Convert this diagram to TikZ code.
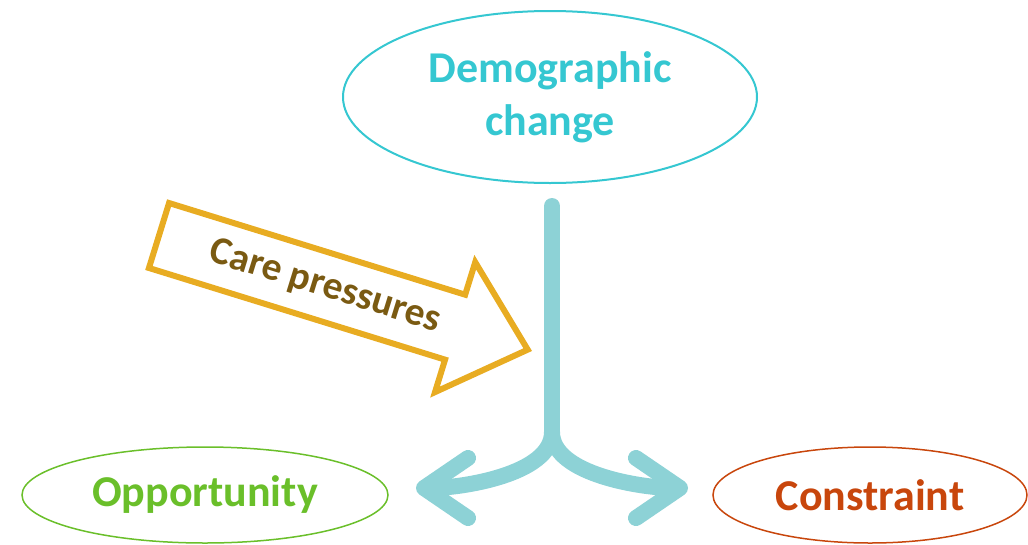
\documentclass[tikz,border=0pt]{standalone}
\usepackage{fontspec}
\setmainfont{Carlito}
\usetikzlibrary{shapes.geometric,arrows.meta}

\definecolor{demo}{HTML}{35C7D1}
\definecolor{opp}{HTML}{6ABF2A}
\definecolor{con}{HTML}{C8460C}
\definecolor{push}{HTML}{E8AC22}
\definecolor{pushtext}{HTML}{7A5A12}
\definecolor{forkcol}{HTML}{8DD2D6}

\begin{document}
\begin{tikzpicture}[x=1pt, y=-1pt,
        bubble/.style={ellipse, draw, line width=1.5pt, inner sep=0pt,
            font=\bfseries\fontsize{44}{53}\selectfont},
        stem/.style={line width=16pt, draw=forkcol, line cap=round},
        fork/.style={stem, -{Straight Barb[round, length=44pt, width=60pt]}},
        block/.style={draw=push, line width=6pt, miter limit=20}]
    \useasboundingbox (0,0) rectangle (1028,544);

    \node[bubble, draw=demo, text=demo, line width=2pt, align=center,
          minimum width=414, minimum height=172] (d) at (550,97) {Demographic\\change};
    \node[bubble, draw=opp, text=opp,
          minimum width=366, minimum height=96] (o) at (205,495) {Opportunity};
    \node[bubble, draw=con, text=con,
          minimum width=314, minimum height=96] (k) at (870,495) {Constraint};

    % the fork
    \coordinate (t) at (552,206);
    \coordinate (j) at (552,432);
    \coordinate (l) at (416,488);
    \coordinate (r) at (688,488);
    \draw[stem] (t) -- (j);
    \draw[fork] (j) to[out=-90, in=0, looseness=0.75] (l);
    \draw[fork] (j) to[out=-90, in=180, looseness=0.75] (r);

    % care pressures
    \begin{scope}[shift={(159,235.5)}, rotate=-17.2]
        \draw[block] (0,-34) -- (310,-34) -- (310,-68) -- (386,0)
            -- (310,68) -- (310,34) -- (0,34) -- cycle;
        \node[rotate=-17.2, text=pushtext, font=\bfseries\fontsize{39.5}{46}\selectfont]
            (c) at (174,0) {Care pressures};
    \end{scope}
\end{tikzpicture}
\end{document}
